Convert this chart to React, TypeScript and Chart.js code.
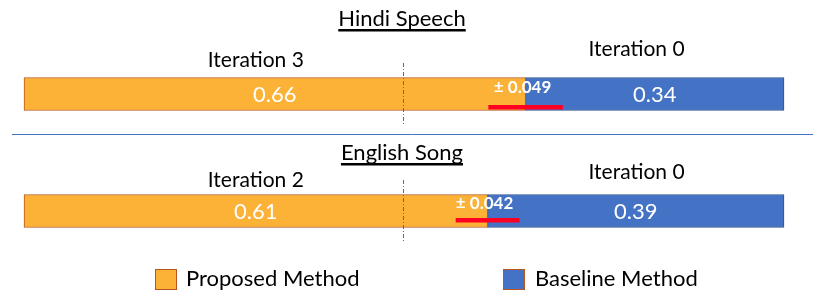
import React, { useEffect, useRef } from "react";
import { Chart, registerables } from "chart.js";

Chart.register(...registerables);

const categories = ["Hindi Speech", "English Song"];
const proposed = [0.66, 0.61];
const baseline = [0.34, 0.39];
const errors = [0.049, 0.042];
const proposedIterations = ["Iteration 3", "Iteration 2"];
const baselineIterations = ["Iteration 0", "Iteration 0"];
const seriesNames = ["Proposed Method", "Baseline Method"];

const ORANGE = "#FBB237";
const ORANGE_BORDER = "#B8551A";
const BLUE = "#4472C4";
const BLUE_BORDER = "#2F528F";
const RED = "#FF0022";
const FONT = "Lato, 'Noto Sans', sans-serif";

const overlay = {
  id: "overlay",
  afterDatasetsDraw(chart: any) {
    const ctx = chart.ctx as CanvasRenderingContext2D;
    const xs = chart.scales.x;
    const m0 = chart.getDatasetMeta(0);
    const m1 = chart.getDatasetMeta(1);
    ctx.save();

    // separator line
    ctx.strokeStyle = BLUE;
    ctx.lineWidth = 1;
    ctx.beginPath();
    ctx.moveTo(12, 134.5);
    ctx.lineTo(813, 134.5);
    ctx.stroke();

    const titleY = [19, 153];
    const propLabelDy = [-34, -31];
    const baseLabelDy = [-45, -39];
    const redDy = [13, 9];
    const pmDy = [-6, -7];

    categories.forEach((cat, i) => {
      const e0 = m0.data[i];
      const e1 = m1.data[i];
      const cy = e0.y;

      // dashed center line
      const cx = Math.round(xs.getPixelForValue(0.5)) - 0.5;
      ctx.strokeStyle = "#4A6AA8";
      ctx.lineWidth = 1;
      ctx.setLineDash([4, 2, 1, 2]);
      ctx.beginPath();
      ctx.moveTo(cx, cy - 31);
      ctx.lineTo(cx, cy + 30);
      ctx.stroke();
      ctx.setLineDash([]);

      // red error line
      const p = proposed[i];
      const x1 = xs.getPixelForValue(p - errors[i]);
      const x2 = xs.getPixelForValue(p + errors[i]);
      ctx.fillStyle = RED;
      ctx.fillRect(x1, cy + redDy[i] - 2, x2 - x1, 4.5);

      // value labels
      ctx.fillStyle = "#FFFFFF";
      ctx.textAlign = "center";
      ctx.textBaseline = "middle";
      ctx.font = `22px ${FONT}`;
      ctx.fillText(proposed[i].toFixed(2), (e0.x + e0.base) / 2, cy + 1);
      ctx.fillText(baseline[i].toFixed(2), (e1.x + e1.base) / 2, cy + 1);

      // ± labels
      ctx.font = `bold 17px ${FONT}`;
      ctx.fillText(`± ${errors[i].toFixed(3)}`, xs.getPixelForValue(p) - 3, cy + pmDy[i]);

      // iteration labels
      ctx.fillStyle = "#000000";
      ctx.font = `21px ${FONT}`;
      ctx.fillText(proposedIterations[i], xs.getPixelForValue(0.305), cy + propLabelDy[i]);
      ctx.fillText(baselineIterations[i], xs.getPixelForValue(0.806), cy + baseLabelDy[i]);

      // title with underline
      ctx.font = `22px ${FONT}`;
      const tx = 402;
      ctx.fillText(cat, tx, titleY[i]);
      const w = ctx.measureText(cat).width;
      ctx.fillRect(tx - w / 2, titleY[i] + 10, w, 2.5);
    });

    // legend
    const legendItems = [
      { label: seriesNames[0], color: ORANGE, boxX: 155, textX: 186 },
      { label: seriesNames[1], color: BLUE, boxX: 503, textX: 535 },
    ];
    legendItems.forEach((it) => {
      ctx.fillStyle = it.color;
      ctx.fillRect(it.boxX, 269, 21, 20);
      ctx.strokeStyle = ORANGE_BORDER;
      ctx.lineWidth = 1;
      ctx.strokeRect(it.boxX + 0.5, 269.5, 21, 20);
      ctx.fillStyle = "#000000";
      ctx.textAlign = "left";
      ctx.textBaseline = "middle";
      ctx.font = `22px ${FONT}`;
      ctx.fillText(it.label, it.textX, 279);
    });

    ctx.restore();
  },
};

export default function App() {
  const ref = useRef<HTMLCanvasElement | null>(null);
  useEffect(() => {
    if (!ref.current) return;
    const chart = new Chart(ref.current, {
      type: "bar",
      data: {
        labels: categories,
        datasets: [
          {
            label: seriesNames[0],
            data: proposed,
            backgroundColor: ORANGE,
            borderColor: ORANGE_BORDER,
            borderWidth: 1,
            borderSkipped: false,
            barThickness: 33,
            clip: false,
          } as any,
          {
            label: seriesNames[1],
            data: baseline,
            backgroundColor: BLUE,
            borderColor: BLUE_BORDER,
            borderWidth: 1,
            borderSkipped: false,
            barThickness: 33,
            clip: false,
          } as any,
        ],
      },
      options: {
        indexAxis: "y",
        responsive: false,
        animation: false,
        layout: { padding: { left: 24, right: 37, top: 94, bottom: 91 } },
        scales: {
          x: { stacked: true, min: 0, max: 1, display: false },
          y: { stacked: true, display: false, offset: false },
        },
        plugins: {
          legend: { display: false },
          tooltip: { enabled: false },
        },
      },
      plugins: [overlay],
    });
    return () => chart.destroy();
  }, []);
  return (
    <div style={{ position: "fixed", left: 0, top: 0, width: 821, height: 302, background: "#fff" }}>
      <canvas ref={ref} width={821} height={302} />
    </div>
  );
}
